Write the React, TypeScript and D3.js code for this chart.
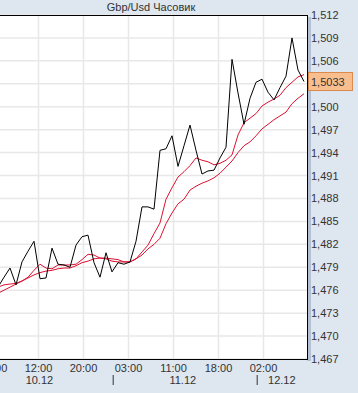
import React from "react";
import * as d3 from "d3";

const TITLE = "Gbp/Usd Часовик";

// hourly bars, index -1 .. 50
const closePrices = [
  1.4764, 1.4777, 1.4789, 1.4767, 1.4797, 1.4811, 1.4824, 1.4775, 1.4776, 1.4815,
  1.4794, 1.4793, 1.479, 1.4819, 1.483, 1.4832, 1.4796, 1.4777, 1.4809, 1.4784,
  1.4796, 1.4794, 1.4797, 1.4824, 1.4869, 1.4869, 1.4866, 1.4943, 1.4945, 1.4962,
  1.4922, 1.4949, 1.4976, 1.4943, 1.4912, 1.4916, 1.4917, 1.4933, 1.4947, 1.5062,
  1.5018, 1.4977, 1.5011, 1.5032, 1.5036, 1.5019, 1.5009, 1.5025, 1.504, 1.509,
  1.5048, 1.5033,
];

const fastMA = [
  1.4764, 1.4767, 1.4768, 1.4769, 1.4772, 1.4777, 1.4786, 1.4794, 1.4789, 1.4788,
  1.4793, 1.4793, 1.4793, 1.4794, 1.48, 1.4807, 1.4806, 1.4802, 1.4801, 1.4798,
  1.4797, 1.4797, 1.4797, 1.4801, 1.481, 1.4819, 1.4834, 1.4848, 1.4879, 1.4894,
  1.4908, 1.4915, 1.4923, 1.4933, 1.493, 1.4928, 1.4924, 1.4926, 1.493, 1.4937,
  1.4963, 1.4979, 1.4985, 1.4991, 1.5001, 1.5006, 1.501, 1.5015, 1.5025, 1.5032,
  1.5039, 1.5042,
];

const slowMA = [
  1.4756, 1.476, 1.4764, 1.4768, 1.4772, 1.4776, 1.478, 1.4783, 1.4785, 1.4786,
  1.4788, 1.4789, 1.4789, 1.4792, 1.4796, 1.4798, 1.4801, 1.4802, 1.4802, 1.4801,
  1.48, 1.4797, 1.4797, 1.4801, 1.4806, 1.4814, 1.482, 1.4828, 1.4847, 1.4861,
  1.4873, 1.4879, 1.4891, 1.4896, 1.49, 1.4903, 1.4907, 1.4913, 1.4921, 1.4929,
  1.494, 1.4949, 1.4954, 1.4962, 1.4971, 1.4977, 1.4983, 1.4988, 1.4993, 1.5004,
  1.5011, 1.5017,
];

const yTickValues = [
  1.467, 1.47, 1.473, 1.476, 1.479, 1.482, 1.485, 1.488, 1.491, 1.494, 1.497, 1.5,
  1.503, 1.506, 1.509, 1.512,
];
const yTickLabels = [
  "1,467", "1,470", "1,473", "1,476", "1,479", "1,482", "1,485", "1,488", "1,491",
  "1,494", "1,497", "1,500", "1,503", "1,506", "1,509", "1,512",
];

const timeTickIdx = [-1.75, 5.75, 13.25, 20.75, 28.25, 35.75, 43.25];
const timeTickLabels = ["04:00", "12:00", "20:00", "03:00", "11:00", "18:00", "02:00"];

const dateIdx = [5.9, 29.8, 46.3];
const dateLabels = ["10.12", "11.12", "12.12"];
const daySeparatorIdx = [18.2, 42.2];

const lastValueLabel = "1,5033";

export default function App() {
  const W = 358;
  const H = 393;
  const plotLeft = -30;
  const plotRight = 307;
  const plotTop = 15;
  const plotBottom = 359;

  const x = d3.scaleLinear().domain([0, 50]).range([4, 304]);
  const y = d3.scaleLinear().domain([1.467, 1.512]).range([plotBottom, plotTop]);

  const idx = closePrices.map((_, i) => i - 1);
  const line = d3
    .line<number>()
    .x((_, i) => x(idx[i]))
    .y((d) => y(d));

  const font = "'Liberation Sans', Arial, sans-serif";
  const lastV = closePrices[closePrices.length - 1];

  return (
    <svg
      width={W}
      height={H}
      style={{ position: "absolute", left: 0, top: 0, display: "block" }}
    >
      <rect x={0} y={0} width={W} height={H} fill="#dee6f0" />
      <text
        x={151}
        y={11}
        fontFamily={font}
        fontSize={11}
        fill="#333"
        textAnchor="middle"
      >
        {TITLE}
      </text>
      {/* shadow */}
      <rect x={plotRight} y={plotTop + 2} width={4} height={plotBottom - plotTop} fill="#b4c0d4" />
      <rect
        x={plotLeft}
        y={plotTop}
        width={plotRight - plotLeft}
        height={plotBottom - plotTop}
        fill="#ffffff"
      />
      {yTickValues.map((v, i) => (
        <line
          key={"hg" + i}
          x1={plotLeft}
          x2={plotRight}
          y1={y(v)}
          y2={y(v)}
          stroke="#e8e8e8"
          strokeWidth={1.5}
        />
      ))}
      {timeTickIdx.map((t, i) => (
        <line
          key={"vg" + i}
          x1={x(t)}
          x2={x(t)}
          y1={plotTop}
          y2={plotBottom}
          stroke="#e8e8e8"
          strokeWidth={1.5}
        />
      ))}
      <defs>
        <clipPath id="plotclip">
          <rect x={plotLeft} y={plotTop} width={plotRight - plotLeft} height={plotBottom - plotTop} />
        </clipPath>
      </defs>
      <g clipPath="url(#plotclip)">
        <path d={line(slowMA) || ""} fill="none" stroke="#dd1030" strokeWidth={1} />
        <path d={line(fastMA) || ""} fill="none" stroke="#dd1030" strokeWidth={1} />
        <path d={line(closePrices) || ""} fill="none" stroke="#000" strokeWidth={1} />
      </g>
      <rect
        x={plotLeft}
        y={plotTop + 0.5}
        width={plotRight - plotLeft + 0.5}
        height={plotBottom - plotTop}
        fill="none"
        stroke="#000"
        strokeWidth={1}
      />
      {yTickValues.map((v, i) =>
        Math.abs(v - 1.503) < 1e-6 ? null : (
          <text
            key={"yl" + i}
            x={311}
            y={y(v) + 4}
            fontFamily={font}
            fontSize={11}
            fill="#333"
          >
            {yTickLabels[i]}
          </text>
        )
      )}
      <rect
        x={308.5}
        y={y(lastV) - 9}
        width={44}
        height={18}
        fill="#f9be8e"
        stroke="#d98a4e"
        strokeWidth={1}
      />
      <text x={311} y={y(lastV) + 4} fontFamily={font} fontSize={11} fill="#333">
        {lastValueLabel}
      </text>
      {timeTickIdx.map((t, i) => (
        <text
          key={"xl" + i}
          x={x(t)}
          y={372}
          fontFamily={font}
          fontSize={11}
          fill="#333"
          textAnchor="middle"
        >
          {timeTickLabels[i]}
        </text>
      ))}
      {dateIdx.map((t, i) => (
        <text
          key={"dl" + i}
          x={x(t)}
          y={384}
          fontFamily={font}
          fontSize={11}
          fill="#333"
          textAnchor="middle"
        >
          {dateLabels[i]}
        </text>
      ))}
      {daySeparatorIdx.map((t, i) => (
        <line
          key={"ds" + i}
          x1={x(t)}
          x2={x(t)}
          y1={375}
          y2={385}
          stroke="#333"
          strokeWidth={1}
        />
      ))}
    </svg>
  );
}
